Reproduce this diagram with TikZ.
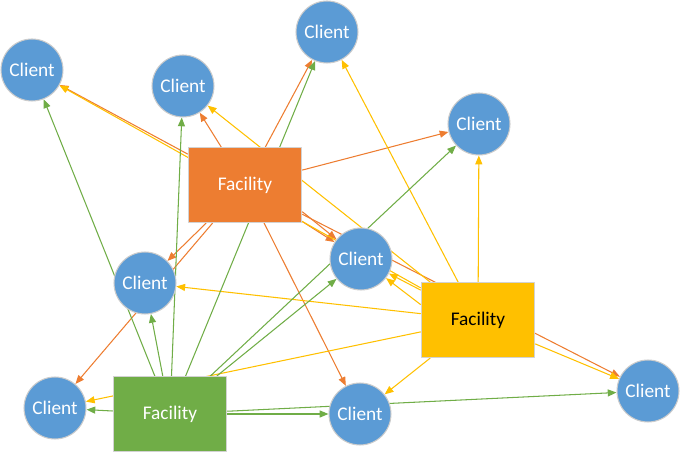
\documentclass[tikz,border=0pt]{standalone}
\usepackage{fontspec}
\setmainfont{Carlito}
\usepackage{tikz}
\usetikzlibrary{arrows.meta,backgrounds,positioning}
\definecolor{cblue}{HTML}{5B9BD5}
\definecolor{corange}{HTML}{ED7D31}
\definecolor{cyellow}{HTML}{FFC000}
\definecolor{cgreen}{HTML}{70AD47}
\begin{document}
\begin{tikzpicture}[x=0.02cm,y=-0.02cm,line cap=round,line join=round,>={Triangle[length=5pt,width=4pt]},
  client/.style={circle,fill=cblue,draw=gray!40,line width=0.6pt,minimum size=1.24cm,inner sep=0pt,text=white,font=\fontsize{11}{13}\selectfont},
  facility/.style={rectangle,draw=gray!35,line width=0.6pt,minimum width=2.27cm,minimum height=1.5cm,font=\fontsize{11}{13}\selectfont},
  ora/.style={->,corange,line width=0.6pt},
  yel/.style={->,cyellow,line width=0.6pt},
  gre/.style={->,cgreen,line width=0.6pt}]
\useasboundingbox (0,0) rectangle (680,452);
% clients
\node[client] (c1) at (32,70) {Client};
\node[client] (c2) at (183,86) {Client};
\node[client] (c3) at (327,32) {Client};
\node[client] (c4) at (479,124) {Client};
\node[client] (c5) at (361,259) {Client};
\node[client] (c6) at (145,283) {Client};
\node[client] (c7) at (55,408) {Client};
\node[client] (c8) at (360,414) {Client};
\node[client] (c9) at (648,391) {Client};
% facilities
\node[facility,fill=corange,text=white] (fo) at (245,185) {Facility};
\node[facility,fill=cyellow,text=black] (fy) at (478,320) {Facility};
\node[facility,fill=cgreen,text=white] (fg) at (170,414) {Facility};
\begin{scope}[on background layer]
%orange
\foreach \c in {c1,c2,c3,c4,c5,c6,c7,c8,c9}
  \draw[ora] (fo) -- (\c);
\draw[ora] (fo.-25) -- (c5);
%yellow
\foreach \c in {c1,c2,c3,c4,c5,c6,c7,c8,c9}
  \draw[yel] (fy) -- (\c);
\draw[yel] (fy.165) -- (c5);
%green
\foreach \c in {c1,c2,c3,c4,c5,c6,c7,c8,c9}
  \draw[gre] (fg) -- (\c);
\end{scope}
\end{tikzpicture}
\end{document}
